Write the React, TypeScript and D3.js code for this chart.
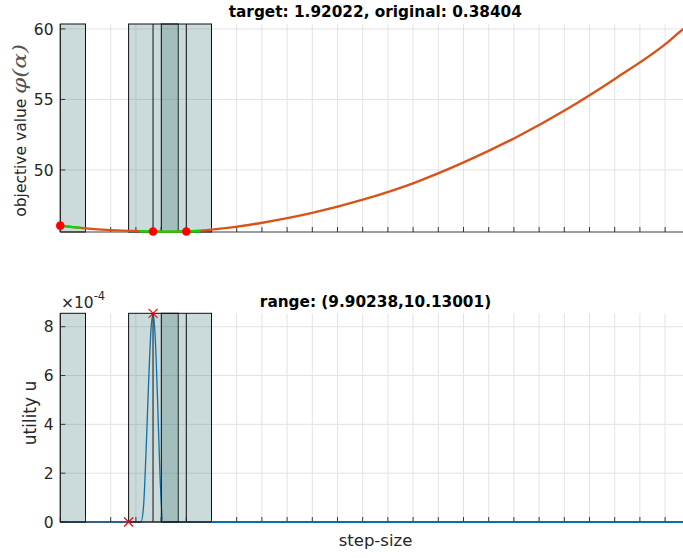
import React from "react";
import * as d3 from "d3";

// Step-size grid (ticks every unit, no labels shown)
const xTicks = d3.range(0, 26, 1);

// Objective curve phi(alpha) along the step-size axis
const phiU = [0, 1.0, 2.0, 3.68, 4.34, 5.0, 6.73, 8.02, 10.04, 12.04, 14.05, 16.05, 18.04, 20.06, 22.05, 24.06, 24.71, 25.0];
const phiV = [46.05, 45.86, 45.73, 45.64, 45.61, 45.64, 45.91, 46.26, 46.97, 47.91, 49.09, 50.57, 52.27, 54.27, 56.51, 58.99, 59.98, 60.35];

// Evaluated samples (red dots) and their tangent segments (green)
const sampleU = [0, 3.68, 5.0];
const sampleV = [46.05, 45.64, 45.64];
const sampleSlope = [-0.2, -0.02, 0.02];
const tangentFrom = [0, 3.14, 4.34];
const tangentTo = [0.8, 4.34, 5.56];

// Shaded intervals
const rectFrom = [0, 2.71, 4.01];
const rectTo = [1.0, 4.68, 6.0];

// Vertical markers at the sampled step sizes
const markerU = [3.68, 5.0];

// Utility curve u (units of 1e-4)
const utilU = [0, 3.2, 3.3, 3.4, 3.5, 3.6, 3.68, 3.76, 3.86, 3.96, 4.08, 25];
const utilV = [0, 0, 0.6, 2.8, 5.6, 7.9, 8.55, 7.7, 5.0, 1.8, 0, 0];

// Utility extremes (red crosses)
const crossU = [3.68, 2.71];
const crossV = [8.55, 0];

const phiTicks = [50, 55, 60];
const utilTicks = [0, 2, 4, 6, 8];

const topTitle = "target: 1.92022, original: 0.38404";
const bottomTitle = "range: (9.90238,10.13001)";

const FONT = "'DejaVu Sans', sans-serif";
const AX = "#262626";
const GRID = "#e3e3e3";

export default function App() {
  const x = d3.scaleLinear().domain([0, 25]).range([60.3, 690.3]);
  const yTop = d3.scaleLinear().domain([45.6, 60.35]).range([232, 24]);
  const yBot = d3.scaleLinear().domain([0, 8.55]).range([522, 313.3]);

  const phiLine = d3
    .line<number>()
    .x((_, i) => x(phiU[i]))
    .y((d) => yTop(d))
    .curve(d3.curveMonotoneX)(phiV) as string;

  const utilLine = d3
    .line<number>()
    .x((_, i) => x(utilU[i]))
    .y((d) => yBot(d))
    .curve(d3.curveMonotoneX)(utilV) as string;

  const shading = (y0: number, y1: number) => (
    <g>
      {rectFrom.map((a, i) => (
        <rect
          key={"r" + i}
          x={x(a)}
          y={y1}
          width={x(rectTo[i]) - x(a)}
          height={y0 - y1}
          fill="rgb(54,111,111)"
          fillOpacity={0.26}
          stroke="#111"
          strokeWidth={1}
        />
      ))}
      {markerU.map((u, i) => (
        <line key={"m" + i} x1={x(u)} x2={x(u)} y1={y0} y2={y1} stroke="#111" strokeWidth={1} />
      ))}
    </g>
  );

  const grid = (y0: number, y1: number, yTicksPx: number[]) => (
    <g>
      {xTicks.map((t) => (
        <line key={"gx" + t} x1={x(t)} x2={x(t)} y1={y0} y2={y1} stroke={GRID} strokeWidth={1} />
      ))}
      {yTicksPx.map((p, i) => (
        <line key={"gy" + i} x1={x(0)} x2={x(25)} y1={p} y2={p} stroke={GRID} strokeWidth={1} />
      ))}
    </g>
  );

  const axes = (y0: number, y1: number, yTicksPx: number[]) => (
    <g>
      <line x1={x(0)} x2={x(25)} y1={y0} y2={y0} stroke={AX} strokeWidth={0.9} />
      <line x1={x(0)} x2={x(0)} y1={y0} y2={y1} stroke={AX} strokeWidth={0.9} />
      {xTicks.map((t) => (
        <line key={"tx" + t} x1={x(t)} x2={x(t)} y1={y0} y2={y0 - 5} stroke={AX} strokeWidth={0.9} />
      ))}
      {yTicksPx.map((p, i) => (
        <line key={"ty" + i} x1={x(0)} x2={x(0) + 5} y1={p} y2={p} stroke={AX} strokeWidth={0.9} />
      ))}
    </g>
  );

  const topTickPx = phiTicks.map((t) => yTop(t));
  const botTickPx = utilTicks.map((t) => yBot(t));

  return (
    <svg
      width={683}
      height={558}
      style={{ position: "absolute", left: 0, top: 0, background: "#fff" }}
      fontFamily={FONT}
    >
      <rect x={0} y={0} width={683} height={558} fill="#fff" />

      {/* upper panel: objective value */}
      {grid(232, 24, topTickPx)}
      {shading(232, 24)}
      {axes(232, 24, topTickPx)}
      <path d={phiLine} fill="none" stroke="#D95319" strokeWidth={2.4} />
      {sampleU.map((u, i) => (
        <line
          key={"tg" + i}
          x1={x(tangentFrom[i])}
          x2={x(tangentTo[i])}
          y1={yTop(sampleV[i] + sampleSlope[i] * (tangentFrom[i] - u))}
          y2={yTop(sampleV[i] + sampleSlope[i] * (tangentTo[i] - u))}
          stroke="#00dd00"
          strokeWidth={2.4}
        />
      ))}
      {sampleU.map((u, i) => (
        <circle key={"pt" + i} cx={x(u)} cy={yTop(sampleV[i])} r={4.3} fill="#ff0000" />
      ))}
      {phiTicks.map((t) => (
        <text key={"lt" + t} x={53.5} y={yTop(t)} dy="0.36em" textAnchor="end" fontSize={15.5} fill={AX}>
          {t}
        </text>
      ))}
      <text x={375.3} y={17} textAnchor="middle" fontSize={15.3} fontWeight="bold" fill="#000">
        {topTitle}
      </text>
      <text transform="translate(26,216.7) rotate(-90)" fontSize={15.5} fill={AX}>
        objective value
      </text>
      <text
        transform="translate(26,94) rotate(-90)"
        fontSize={18}
        fill="#555"
        fontFamily="'DejaVu Serif', serif"
        fontStyle="italic"
        textLength={50}
        lengthAdjust="spacingAndGlyphs"
      >
        {"\u03C6(\u03B1)"}
      </text>

      {/* lower panel: utility */}
      {grid(522, 313.3, botTickPx)}
      <path d={utilLine} fill="none" stroke="#0072BD" strokeWidth={1.3} />
      {shading(522, 313.3)}
      {axes(522, 313.3, botTickPx)}
      <line x1={x(6.0)} x2={x(25)} y1={yBot(0)} y2={yBot(0)} stroke="#0072BD" strokeWidth={1.3} />
      {crossU.map((u, i) => {
        const cx = x(u);
        const cy = yBot(crossV[i]);
        const s = 4.5;
        return (
          <g key={"cx" + i} stroke="#ff0000" strokeWidth={1.2}>
            <line x1={cx - s} x2={cx + s} y1={cy - s} y2={cy + s} />
            <line x1={cx - s} x2={cx + s} y1={cy + s} y2={cy - s} />
          </g>
        );
      })}
      {utilTicks.map((t) => (
        <text key={"lb" + t} x={53.5} y={yBot(t)} dy="0.36em" textAnchor="end" fontSize={15.5} fill={AX}>
          {t}
        </text>
      ))}
      <text x={61} y={308.3} fontSize={15.5} fill={AX}>
        {"\u00D710"}
        <tspan dy={-8} fontSize={11.5}>
          -4
        </tspan>
      </text>
      <text x={375.5} y={307} textAnchor="middle" fontSize={15.3} fontWeight="bold" fill="#000">
        {bottomTitle}
      </text>
      <text transform="translate(35.5,413) rotate(-90)" textAnchor="middle" fontSize={17} fill={AX}>
        utility u
      </text>
      <text x={375.5} y={546} textAnchor="middle" fontSize={16.5} fill={AX}>
        step-size
      </text>
    </svg>
  );
}
